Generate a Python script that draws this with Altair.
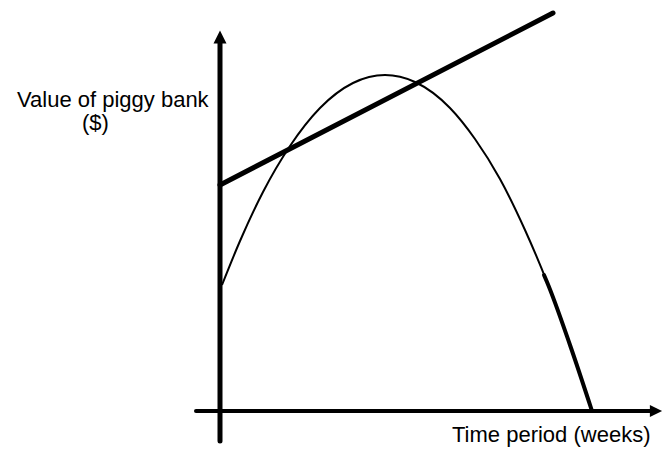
import altair as alt
import pandas as pd

# Curve (value of piggy bank over time)
curve_weeks = [0.1, 1.0, 2.15, 3.5, 5.0, 6.65, 8.25, 9.75, 11.5, 12.75, 14.0, 15.25, 16.35, 17.5, 18.6]
curve_value = [6.3, 8.5, 10.95, 13.25, 15.15, 16.4, 16.8, 16.45, 15.15, 13.6, 11.6, 9.05, 6.45, 3.3, 0.0]

# Thick final part of the curve
tail_weeks = [16.2, 16.35, 17.5, 18.6]
tail_value = [6.8, 6.45, 3.3, 0.0]

# Straight line
line_weeks = [0.0, 16.65]
line_value = [11.3, 19.9]

# Axis extents
x_axis_start, x_axis_end, x_arrow = -1.2, 21.5, 21.8
y_axis_start, y_axis_end, y_arrow = -1.5, 18.4, 18.7

y_label_main = "Value of piggy bank"
y_label_unit = "($)"
x_label = "Time period (weeks)"

XS = alt.Scale(domain=[-10.6, 22.15], nice=False, zero=False)
YS = alt.Scale(domain=[-2.0, 20.15], nice=False, zero=False)


def xe(f="x"):
    return alt.X(f"{f}:Q", scale=XS, axis=None)


def ye(f="y"):
    return alt.Y(f"{f}:Q", scale=YS, axis=None)


curve_df = pd.DataFrame({"x": curve_weeks, "y": curve_value})
tail_df = pd.DataFrame({"x": tail_weeks, "y": tail_value})
line_df = pd.DataFrame({"x": line_weeks, "y": line_value})

haxis = alt.Chart(pd.DataFrame({"x": [x_axis_start], "x2": [x_axis_end], "y": [0.0]})).mark_rule(
    color="black", strokeWidth=4, strokeCap="round"
).encode(x=xe(), x2="x2:Q", y=ye())

vaxis = alt.Chart(pd.DataFrame({"x": [0.0], "y": [y_axis_start], "y2": [y_axis_end]})).mark_rule(
    color="black", strokeWidth=5, strokeCap="round"
).encode(x=xe(), y=ye(), y2="y2:Q")

up_arrow = alt.Chart(pd.DataFrame({"x": [0.0], "y": [y_arrow]})).mark_point(
    shape="M-1,1L0,-1L1,1Z", filled=True, color="black", opacity=1, size=169
).encode(x=xe(), y=ye())

right_arrow = alt.Chart(pd.DataFrame({"x": [x_arrow], "y": [0.0]})).mark_point(
    shape="M-1,-1L1,0L-1,1Z", filled=True, color="black", opacity=1, size=150
).encode(x=xe(), y=ye())

curve = alt.Chart(curve_df).mark_line(color="black", strokeWidth=2, interpolate="monotone").encode(
    x=xe(), y=ye()
)
tail = alt.Chart(tail_df).mark_line(color="black", strokeWidth=4, strokeCap="round", interpolate="monotone").encode(
    x=xe(), y=ye()
)
straight = alt.Chart(line_df).mark_line(color="black", strokeWidth=5, strokeCap="round").encode(
    x=xe(), y=ye()
)

ylab = alt.Chart(pd.DataFrame({"x": [-10.15], "y": [15.55], "t": [y_label_main]})).mark_text(
    align="left", baseline="middle", font="Liberation Sans", fontSize=22, color="black"
).encode(x=xe(), y=ye(), text="t:N")

ylab2 = alt.Chart(pd.DataFrame({"x": [-6.9], "y": [14.4], "t": [y_label_unit]})).mark_text(
    align="left", baseline="middle", font="Liberation Sans", fontSize=22, color="black"
).encode(x=xe(), y=ye(), text="t:N")

xlab = alt.Chart(pd.DataFrame({"x": [11.6], "y": [-1.2], "t": [x_label]})).mark_text(
    align="left", baseline="middle", font="Liberation Sans", fontSize=22, color="black"
).encode(x=xe(), y=ye(), text="t:N")

chart = alt.layer(haxis, vaxis, up_arrow, right_arrow, curve, tail, straight, ylab, ylab2, xlab).properties(
    width=655, height=443, padding=0, autosize=alt.AutoSizeParams(type="none")
).configure_view(stroke=None)

chart.save("out.html", embed_options={"renderer": "svg", "actions": False})
